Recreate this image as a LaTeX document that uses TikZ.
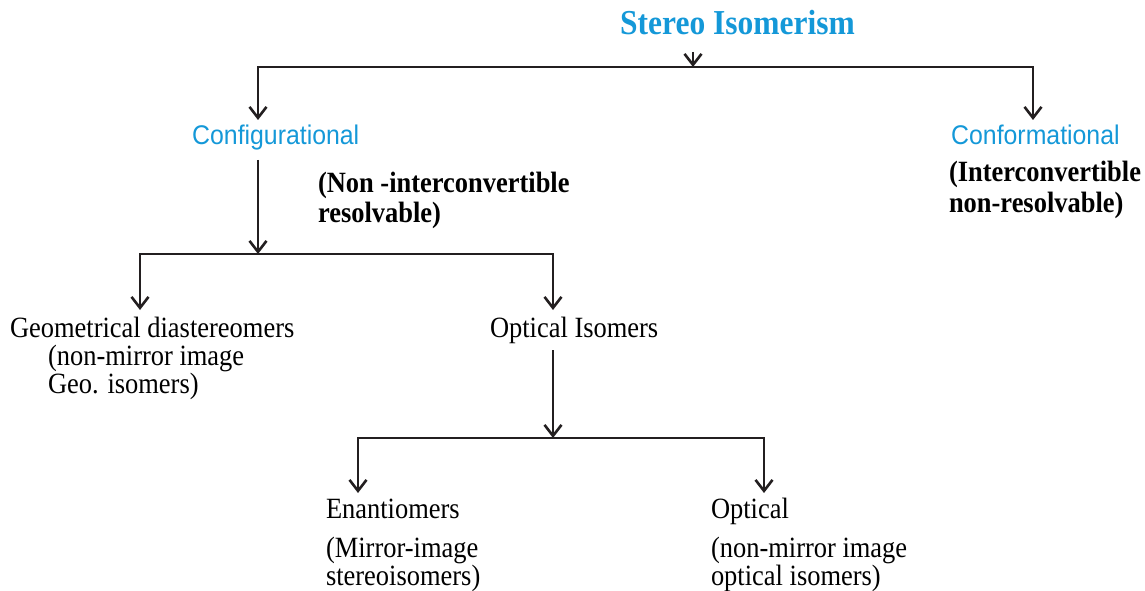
\documentclass[tikz,border=0pt]{standalone}
\usepackage{fontspec}
\setmainfont{Liberation Serif}[FakeStretch=0.9]
\setsansfont{Liberation Sans}[FakeStretch=0.92]
\usetikzlibrary{arrows.meta}
\definecolor{iso}{RGB}{20,152,216}
\definecolor{ink}{RGB}{35,31,32}
\newcommand{\twoln}[3]{\vtop{\baselineskip=#3pt\lineskiplimit=-100pt\hbox{#1}\hbox{#2}}}
\tikzset{
  lbl/.style={anchor=base west, inner sep=0pt, outer sep=0pt, text=black, font=\fontsize{29.4}{30}\selectfont},
  bnote/.style={lbl, font=\fontsize{29.4}{30}\selectfont\bfseries},
  cat/.style={anchor=base west, inner sep=0pt, text=iso, font=\sffamily\fontsize{27}{28}\selectfont},
  arr/.style={draw=ink, line width=2.8pt, -{Straight Barb[length=11pt,width=17pt,line width=2.6pt]}},
}
\begin{document}
\begin{tikzpicture}[x=1pt,y=1pt]
\useasboundingbox (0,0) rectangle (1145,590);
% labels
\node[anchor=base west, inner sep=0pt, text=iso, font=\fontsize{35}{36}\selectfont\bfseries] (title) at (620,555) {Stereo Isomerism};
\node[cat] (cfg) at (192,445) {Configurational};
\node[cat] (cfm) at (951,445) {Conformational};
\node[bnote] (n1) at (318,397) {\twoln{(Non -interconvertible}{resolvable)}{30}};
\node[bnote] (n2) at (949,408) {\twoln{(Interconvertible}{non-resolvable)}{31}};
\node[lbl] (geo) at (10,253) {Geometrical diastereomers};
\node[lbl] (geon) at (48,225) {\twoln{(non-mirror image}{Geo. isomers)}{28}};
\node[lbl] (opt) at (490,253) {Optical Isomers};
\node[lbl] (ena) at (326,72) {Enantiomers};
\node[lbl] (enan) at (326,33) {\twoln{(Mirror-image}{stereoisomers)}{28}};
\node[lbl] (opl) at (711,72) {Optical};
\node[lbl] (opln) at (711,33) {\twoln{(non-mirror image}{optical isomers)}{28}};
% junction coordinates
\coordinate (t0) at (693,538);
\coordinate (j0) at (693,523);
\coordinate (cfgtip) at (258,470);
\coordinate (cfmtip) at (1033,470);
\coordinate (c0) at (258,430);
\coordinate (j1) at (258,336);
\coordinate (geotip) at (140,280);
\coordinate (opttip) at (553,280);
\coordinate (o0) at (553,240);
\coordinate (j2) at (553,152);
\coordinate (enatip) at (358,97);
\coordinate (opltip) at (764,97);
% connectors
\draw[arr] (t0) -- (j0);
\draw[arr] (j0) -| (cfgtip);
\draw[arr] (j0) -| (cfmtip);
\draw[arr] (c0) -- (j1);
\draw[arr] (j1) -| (geotip);
\draw[arr] (j1) -| (opttip);
\draw[arr] (o0) -- (j2);
\draw[arr] (j2) -| (enatip);
\draw[arr] (j2) -| (opltip);
\end{tikzpicture}
\end{document}
